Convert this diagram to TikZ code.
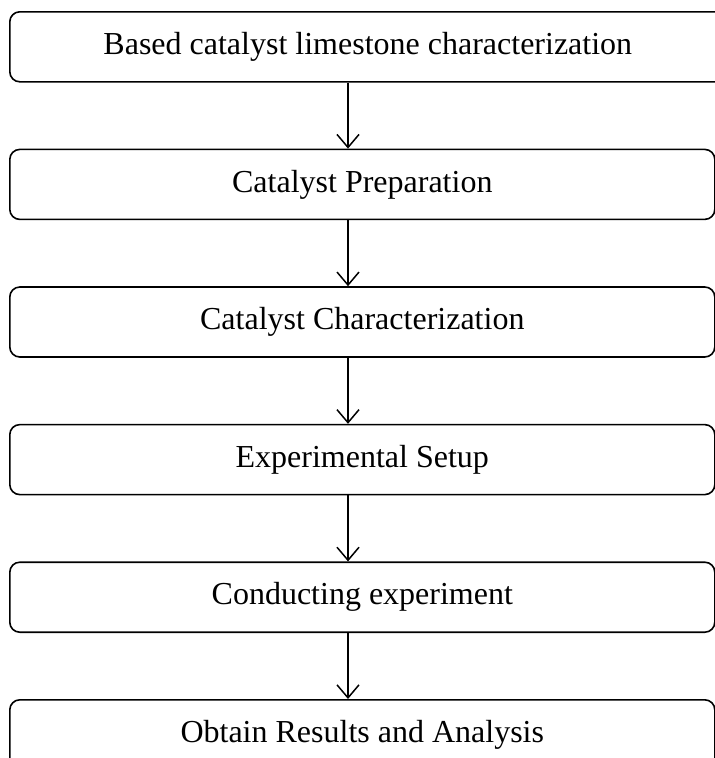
\documentclass[tikz,border=0pt]{standalone}
\usepackage{fontspec}
\setmainfont{Liberation Serif}
\usetikzlibrary{arrows.meta,positioning}
\tikzset{
  stagebox/.style={
    draw, rounded corners=10pt, line width=1.6pt, minimum height=70pt,
    minimum width=705pt, inner sep=0pt, font=\fontsize{32}{36}\selectfont
  },
  stepflow/.style={-{Straight Barb[length=13pt,width=22pt]}, line width=1.5pt}
}
\begin{document}
\begin{tikzpicture}[node distance=66pt]
  \useasboundingbox (0pt,0pt) rectangle (715pt,-758pt);
  \node[stagebox, minimum width=716pt, anchor=north west] (charact) at (9pt,-11pt)
    {Based catalyst limestone characterization};
  \node[stagebox, below=of charact.south west, anchor=north west] (prep)
    {Catalyst Preparation};
  \node[stagebox, below=of prep.south west, anchor=north west] (catchar)
    {Catalyst Characterization};
  \node[stagebox, below=of catchar.south west, anchor=north west] (setup)
    {Experimental Setup};
  \node[stagebox, below=of setup.south west, anchor=north west] (conduct)
    {Conducting experiment};
  \node[stagebox, below=of conduct.south west, anchor=north west] (results)
    {Obtain Results and Analysis};
  \foreach \from/\to in {charact/prep, prep/catchar, catchar/setup, setup/conduct, conduct/results}
    \draw[stepflow] (\from.south -| 348pt,0) -- (\to.north -| 348pt,0);
\end{tikzpicture}
\end{document}
